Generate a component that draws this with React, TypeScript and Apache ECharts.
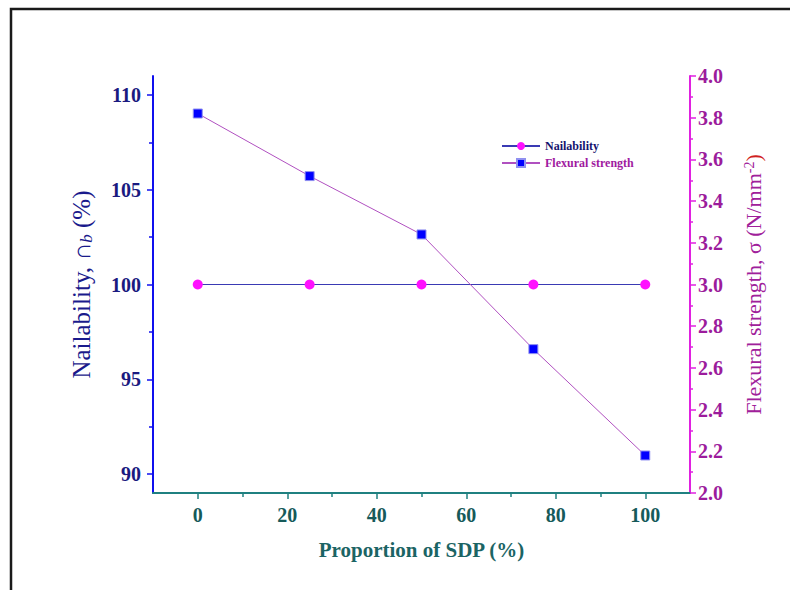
import React, { useEffect, useRef } from "react";
import * as echarts from "echarts";

const xValues = [0, 25, 50, 75, 100];
const nailability = [100, 100, 100, 100, 100];
const flexural = [3.82, 3.52, 3.24, 2.69, 2.18];
const xMajorTicks = [0, 20, 40, 60, 80, 100];
const xMinorTicks = [10, 30, 50, 70, 90];
const yLeftMajor = [90, 95, 100, 105, 110];
const yLeftMinor = [92.5, 97.5, 102.5, 107.5];

const SERIF = "'Liberation Serif', 'DejaVu Serif', serif";

export default function App() {
  const ref = useRef<HTMLDivElement>(null);
  useEffect(() => {
    document.body.style.margin = "0";
    const chart = echarts.init(ref.current!, null, { renderer: "svg" });
    const xTeal = "#1f8080";
    const leftBlue = "#1010ee";
    const rightMag = "#e020e0";
    chart.setOption({
      animation: false,
      backgroundColor: "#ffffff",
      textStyle: { fontFamily: SERIF },
      graphic: [
        {
          type: "rect",
          shape: { x: 11, y: 9, width: 820, height: 640 },
          style: { fill: "none", stroke: "#1a1a1a", lineWidth: 2.5 },
          silent: true,
        },
      ],
      grid: { left: 153, right: 100, top: 76, bottom: 97 },
      legend: {
        orient: "vertical",
        left: 496,
        top: 135,
        itemWidth: 38,
        itemHeight: 10,
        itemGap: 5,
        textStyle: { fontFamily: SERIF, fontWeight: "bold", fontSize: 12 },
        data: [
          { name: "Nailability", textStyle: { color: "#14146e" } },
          { name: "Flexural strength", textStyle: { color: "#a01aa0" } },
        ],
      },
      xAxis: [
        {
          type: "value",
          min: -10,
          max: 110,
          name: "Proportion of SDP (%)",
          nameLocation: "middle",
          nameGap: 46,
          nameTextStyle: { fontFamily: SERIF, fontWeight: "bold", fontSize: 21, color: "#1b6464" },
          axisLine: { show: true, onZero: false, lineStyle: { color: xTeal, width: 2 } },
          axisTick: { show: true, customValues: xMajorTicks, length: 6, lineStyle: { color: xTeal, width: 1.5 } },
          axisLabel: {
            customValues: xMajorTicks,
            margin: 12,
            fontFamily: SERIF,
            fontWeight: "bold",
            fontSize: 20,
            color: "#165a5a",
          },
          splitLine: { show: false },
        },
        {
          type: "value",
          min: -10,
          max: 110,
          position: "bottom",
          axisLine: { show: false, onZero: false },
          axisTick: { show: true, customValues: xMinorTicks, length: 4, lineStyle: { color: xTeal, width: 1.5 } },
          axisLabel: { show: false },
          splitLine: { show: false },
        },
      ],
      yAxis: [
        {
          type: "value",
          position: "left",
          min: 89,
          max: 111,
          name: "Nailability, ∩{sub|b} (%)",
          nameLocation: "middle",
          nameRotate: 90,
          nameGap: 58,
          nameTextStyle: {
            fontFamily: SERIF,
            fontSize: 25,
            color: "#1a1a8c",
            rich: {
              sub: { fontFamily: SERIF, fontSize: 17, fontStyle: "italic", color: "#1a1a8c", verticalAlign: "bottom", padding: [10, 0, 0, 0] },
            },
          },
          axisLine: { show: true, onZero: false, lineStyle: { color: leftBlue, width: 2 } },
          axisTick: { show: true, customValues: yLeftMajor, length: 6, lineStyle: { color: leftBlue, width: 1.5 } },
          axisLabel: {
            customValues: yLeftMajor,
            margin: 12,
            fontFamily: SERIF,
            fontWeight: "bold",
            fontSize: 20,
            color: "#1a1a80",
          },
          splitLine: { show: false },
        },
        {
          type: "value",
          position: "right",
          min: 2,
          max: 4,
          interval: 0.2,
          name: "Flexural strength, σ (N/mm{sup|-2}{red|)}",
          nameLocation: "middle",
          nameRotate: 90,
          nameGap: 52,
          nameTextStyle: {
            fontFamily: SERIF,
            fontSize: 22,
            color: "#a0209a",
            rich: {
              sup: { fontFamily: SERIF, fontSize: 14, color: "#a0209a", verticalAlign: "top", padding: [0, 0, 9, 0] },
              red: { fontFamily: SERIF, fontSize: 22, color: "#d02020" },
            },
          },
          axisLine: { show: true, onZero: false, lineStyle: { color: rightMag, width: 2 } },
          axisTick: { show: true, length: 6, lineStyle: { color: rightMag, width: 1.5 } },
          minorTick: { show: true, splitNumber: 2, length: 3, lineStyle: { color: rightMag, width: 1.5 } },
          axisLabel: {
            margin: 8,
            fontFamily: SERIF,
            fontWeight: "bold",
            fontSize: 20,
            color: "#9c1c9c",
            formatter: (v: number) => v.toFixed(1),
          },
          splitLine: { show: false },
          minorSplitLine: { show: false },
        },
        {
          type: "value",
          position: "left",
          min: 89,
          max: 111,
          axisLine: { show: false, onZero: false },
          axisTick: { show: true, customValues: yLeftMinor, length: 4, lineStyle: { color: leftBlue, width: 1.5 } },
          axisLabel: { show: false },
          splitLine: { show: false },
        },
      ],
      series: [
        {
          name: "Nailability",
          type: "line",
          xAxisIndex: 0,
          yAxisIndex: 0,
          data: xValues.map((x, i) => [x, nailability[i]]),
          symbol: "circle",
          symbolSize: 10,
          itemStyle: { color: "#ff10ff" },
          lineStyle: { color: "#3a3ab4", width: 1 },
        },
        {
          name: "Flexural strength",
          type: "line",
          xAxisIndex: 0,
          yAxisIndex: 1,
          data: xValues.map((x, i) => [x, flexural[i]]),
          symbol: "rect",
          symbolSize: 9,
          itemStyle: { color: "#0000ff", borderColor: "#9090f0", borderWidth: 1 },
          lineStyle: { color: "#b050c0", width: 1 },
        },
      ],
    });
    return () => chart.dispose();
  }, []);
  return <div ref={ref} style={{ width: 790, height: 590 }} />;
}
